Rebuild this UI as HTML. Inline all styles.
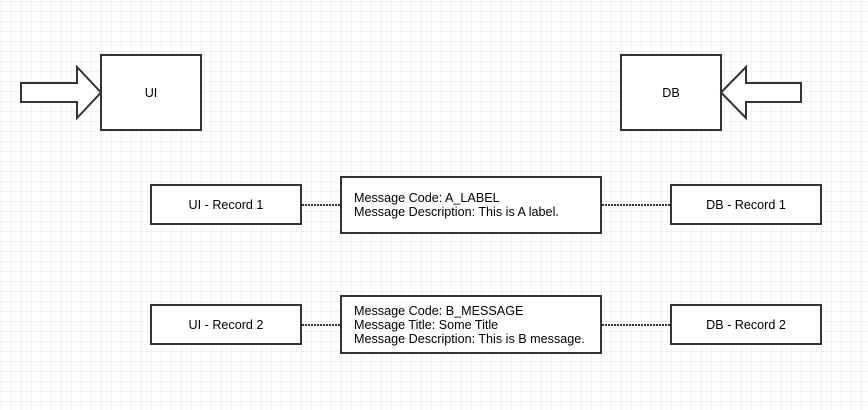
<!DOCTYPE html>
<html><head><style>
html,body{margin:0;padding:0;background:#fff;}
svg{display:block;}
text{font-family:"Liberation Sans",Arial,sans-serif;font-size:12.6px;fill:#000;}
</style></head><body>
<svg width="868" height="410" xmlns="http://www.w3.org/2000/svg">
<defs>
<pattern id="g" width="10" height="10" patternUnits="userSpaceOnUse" x="1" y="1">
<path d="M0 0H10M0 0V10" stroke="#e6e3f3" stroke-width="1" fill="none"/>
</pattern>
</defs>
<rect width="868" height="410" fill="url(#g)"/>
<g stroke="#333" stroke-width="2" fill="#fff">
<polygon points="21,83 77,83 77,67 101,92.5 77,118 77,102 21,102"/>
<rect x="101" y="55" width="100" height="75"/>
<rect x="621" y="55" width="100" height="75"/>
<polygon points="801,83 746,83 746,67 721,92.5 746,118 746,102 801,102"/>
<rect x="151" y="185" width="150" height="39"/>
<rect x="341" y="177" width="260" height="56"/>
<rect x="671" y="185" width="150" height="39"/>
<rect x="151" y="305" width="150" height="39"/>
<rect x="341" y="296" width="260" height="57"/>
<rect x="671" y="305" width="150" height="39"/>
</g>
<g stroke="#333" stroke-width="2" stroke-dasharray="2,1">
<line x1="302" y1="205" x2="340" y2="205"/>
<line x1="602" y1="205" x2="670" y2="205"/>
<line x1="302" y1="325" x2="340" y2="325"/>
<line x1="602" y1="325" x2="670" y2="325"/>
</g>
<text x="151" y="97" text-anchor="middle">UI</text>
<text x="671" y="97" text-anchor="middle">DB</text>
<text x="226" y="209" text-anchor="middle">UI - Record 1</text>
<text x="746" y="209" text-anchor="middle">DB - Record 1</text>
<text x="226" y="329" text-anchor="middle">UI - Record 2</text>
<text x="746" y="329" text-anchor="middle">DB - Record 2</text>
<text x="354" y="202">Message Code: A_LABEL</text>
<text x="354" y="216">Message Description: This is A label.</text>
<text x="354" y="315">Message Code: B_MESSAGE</text>
<text x="354" y="329">Message Title: Some Title</text>
<text x="354" y="343">Message Description: This is B message.</text>
</svg>
</body></html>
